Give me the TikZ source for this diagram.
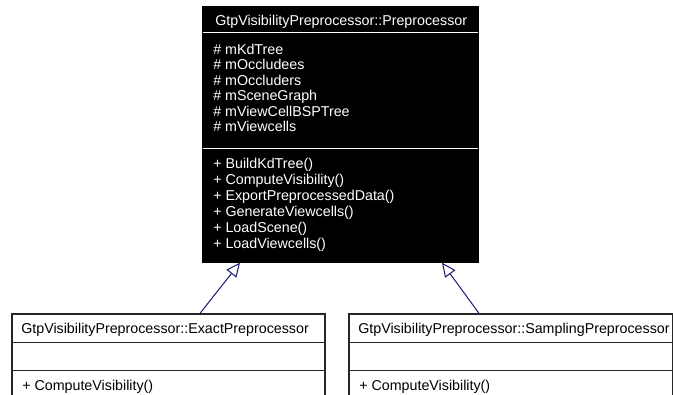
\documentclass[tikz,border=0pt]{standalone}
\usepackage{fontspec}
\setmainfont{Liberation Sans}
\usetikzlibrary{arrows.meta, calc, positioning}
\definecolor{edgeblue}{RGB}{25,25,112}
\tikzstyle{classbox} = [rectangle, draw=black!85, line width=1pt, inner sep=0pt]
\tikzstyle{member} = [anchor=base west, inner sep=0pt, font=\fontsize{10.7}{12}\selectfont]
\tikzstyle{inherit} = [draw=edgeblue, line width=0.75pt, -{Triangle[open, length=10.5pt, width=9.5pt]}]

\begin{document}
\begin{tikzpicture}[x=0.75pt, y=-0.75pt]
    \clip (0,0) rectangle (673,394);
    % base class
    \node[classbox, draw=black, fill=black, minimum width=206.25pt, minimum height=191.25pt] (base) at (340.5,134.5) {};
    \draw[white, line width=1.1pt] ($(base.north west)+(0.5,26)$) -- ($(base.north east)+(-0.5,26)$);
    \draw[white, line width=1.1pt] ($(base.north west)+(0.5,142)$) -- ($(base.north east)+(-0.5,142)$);
    \node[member, text=white] (basetitle) at (215,25) {GtpVisibilityPreprocessor::Preprocessor};
    \foreach \attr [count=\i] in {mKdTree, mOccludees, mOccluders, mSceneGraph, mViewCellBSPTree, mViewcells}
        \node[member, text=white] (attr\i) at (213,38.5+15.5*\i) {\# \attr};
    \foreach \meth [count=\i] in {BuildKdTree, ComputeVisibility, ExportPreprocessedData, GenerateViewcells, LoadScene, LoadViewcells}
        \node[member, text=white] (meth\i) at (213,152+16*\i) {+ \meth()};

    % derived classes
    \node[classbox, fill=white, minimum width=234.75pt, minimum height=64.5pt] (exact) at (168.5,357) {};
    \draw[black!85, line width=1pt] ($(exact.north west)+(0,29)$) -- ($(exact.north east)+(0,29)$);
    \draw[black!85, line width=1pt] ($(exact.north west)+(0,57)$) -- ($(exact.north east)+(0,57)$);
    \node[member] (exacttitle) at (21,333.5) {GtpVisibilityPreprocessor::ExactPreprocessor};
    \node[member] (exactmeth) at (22,390) {+ ComputeVisibility()};

    \node[classbox, fill=white, minimum width=242.6pt, minimum height=64.5pt] (sampling) at (510.75,357) {};
    \draw[black!85, line width=1pt] ($(sampling.north west)+(0,29)$) -- ($(sampling.north east)+(0,29)$);
    \draw[black!85, line width=1pt] ($(sampling.north west)+(0,57)$) -- ($(sampling.north east)+(0,57)$);
    \node[member] (samplingtitle) at (358,333.5) {GtpVisibilityPreprocessor::SamplingPreprocessor};
    \node[member] (samplingmeth) at (359,390) {+ ComputeVisibility()};

    % inheritance
    \draw[inherit] ($(exact.north)+(31.5,0)$) -- ($(base.south)+(-100.5,0)$);
    \draw[inherit] ($(sampling.north)+(-31.75,0)$) -- ($(base.south)+(101.5,0)$);
\end{tikzpicture}
\end{document}
